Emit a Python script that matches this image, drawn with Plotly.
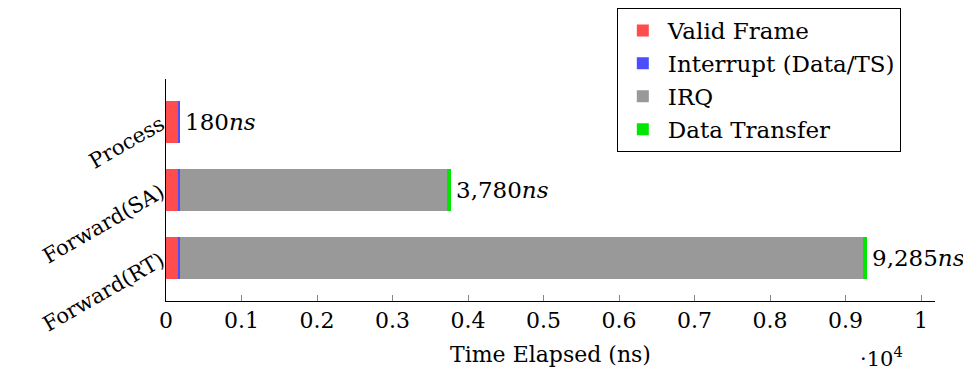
import plotly.graph_objects as go

categories = ["Process", "Forward(SA)", "Forward(RT)"]
valid_frame = [160, 160, 160]
interrupt = [20, 20, 20]
irq = [0, 3540, 9045]
data_transfer = [0, 60, 60]
series_names = ["Valid Frame", "Interrupt (Data/TS)", "IRQ", "Data Transfer"]
series_colors = ["#ff4d4d", "#4d4dff", "#999999", "#00e600"]
x_tick_vals = [0, 1000, 2000, 3000, 4000, 5000, 6000, 7000, 8000, 9000, 10000]
x_tick_text = ["0", "0.1", "0.2", "0.3", "0.4", "0.5", "0.6", "0.7", "0.8", "0.9", "1"]

FONT = "DejaVu Serif"
fig = go.Figure()
for name, vals, col in zip(series_names, [valid_frame, interrupt, irq, data_transfer], series_colors):
    fig.add_trace(go.Bar(
        y=categories, x=vals, name=name, orientation="h",
        marker=dict(color=col, line=dict(width=0)), width=0.62,
    ))

totals = [a + b + c + d for a, b, c, d in zip(valid_frame, interrupt, irq, data_transfer)]
for cat, tot in zip(categories, totals):
    fig.add_annotation(x=tot, y=cat, xref="x", yref="y", text=f"{tot:,}<i>ns</i>",
                       showarrow=False, xanchor="left", xshift=3,
                       font=dict(family=FONT, size=23, color="black"))

fig.add_annotation(x=10000, y=0, xref="x", yref="paper", text="·10<sup>4</sup>",
                   showarrow=False, xanchor="center", yanchor="top", yshift=-40, xshift=-40,
                   font=dict(family=FONT, size=21, color="black"))

fig.update_layout(
    barmode="stack",
    width=971, height=379,
    margin=dict(l=158, r=44, t=71, b=86, autoexpand=False),
    plot_bgcolor="white", paper_bgcolor="white",
    font=dict(family=FONT, size=21, color="black"),
    legend=dict(
        x=0.627, y=1.0, xref="container", yref="container",
        xanchor="left", yanchor="top",
        bordercolor="black", borderwidth=1, bgcolor="white",
        font=dict(family=FONT, size=23),
        traceorder="normal", tracegroupgap=0,
        itemwidth=40, indentation=0,
    ),
    xaxis=dict(
        range=[0, 10185], tickvals=x_tick_vals, ticktext=x_tick_text,
        ticks="inside", ticklen=6, tickcolor="#888888",
        showline=True, linecolor="black", linewidth=1, showgrid=False, zeroline=False,
        title=dict(text="Time Elapsed (ns)", font=dict(family=FONT, size=22), standoff=14),
        tickfont=dict(family=FONT, size=22), automargin=False,
    ),
    yaxis=dict(
        categoryorder="array", categoryarray=categories[::-1],
        range=[-0.63, 2.63], tickangle=-30,
        showline=True, linecolor="black", linewidth=1, showgrid=False, zeroline=False,
        ticks="", tickfont=dict(family=FONT, size=21), automargin=False,
    ),
)
fig.write_html("out.html")
